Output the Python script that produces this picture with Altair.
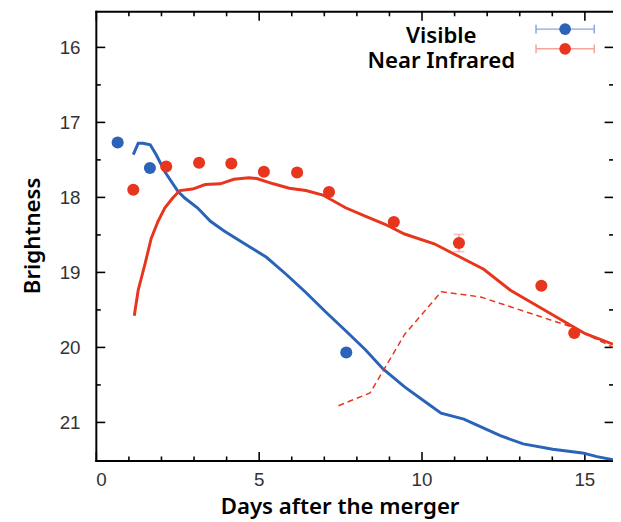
import altair as alt
import pandas as pd

# ---------------- data ----------------
vis_model_days = [1.15, 1.30, 1.45, 1.67, 1.85, 2.12, 2.52, 2.73, 3.12, 3.52, 3.94, 4.42,
                  5.24, 5.85, 6.45, 7.06, 7.67, 8.27, 8.82, 9.48, 10.09, 10.60, 11.30,
                  11.91, 12.42, 13.12, 14.03, 14.94, 15.39, 15.88]
vis_model_mag = [17.43, 17.28, 17.28, 17.30, 17.43, 17.66, 17.92, 18.01, 18.14, 18.32, 18.45, 18.58,
                 18.80, 19.03, 19.27, 19.53, 19.78, 20.03, 20.29, 20.53, 20.72, 20.88, 20.96,
                 21.08, 21.18, 21.29, 21.36, 21.41, 21.46, 21.50]

ir_model_days = [1.18, 1.30, 1.52, 1.70, 1.91, 2.12, 2.36, 2.58, 2.97, 3.36, 3.82, 4.24, 4.70,
                 4.94, 5.45, 5.94, 6.45, 6.97, 7.67, 8.27, 8.88, 9.48, 10.39, 11.15, 11.91,
                 12.73, 13.64, 14.55, 15.03, 15.88]
ir_model_mag = [19.58, 19.24, 18.87, 18.55, 18.32, 18.14, 18.01, 17.91, 17.89, 17.83, 17.82, 17.76,
                17.74, 17.75, 17.82, 17.88, 17.91, 17.97, 18.14, 18.25, 18.36, 18.49, 18.62,
                18.79, 18.96, 19.24, 19.47, 19.70, 19.82, 19.96]

ir_alt_days = [7.45, 8.42, 9.48, 10.61, 11.82, 12.73, 13.64, 14.55, 15.88]
ir_alt_mag = [20.78, 20.61, 19.83, 19.26, 19.33, 19.46, 19.59, 19.72, 20.00]

vis_obs_days = [0.67, 1.66, 7.69]
vis_obs_mag = [17.27, 17.61, 20.07]

ir_obs_days = [1.15, 2.16, 3.17, 4.16, 5.16, 6.18, 7.16, 9.15, 11.15, 13.68, 14.69]
ir_obs_mag = [17.90, 17.59, 17.54, 17.55, 17.66, 17.67, 17.93, 18.33, 18.61, 19.18, 19.81]
ir_obs_err = [0, 0, 0, 0, 0, 0, 0, 0, 0.115, 0, 0]

x_major = [0, 5, 10, 15]
x_minor = [1, 2, 3, 4, 6, 7, 8, 9, 11, 12, 13, 14]
y_major = [16, 17, 18, 19, 20, 21]
y_minor = [16.5, 17.5, 18.5, 19.5, 20.5]

legend_labels = ["Visible", "Near Infrared"]

BLUE = "#2a63b7"
RED = "#e8361e"
BLUE_LIGHT = "#86a8da"
RED_LIGHT = "#f4a49b"
legend_colors = [BLUE, RED]
legend_bar_colors = [BLUE_LIGHT, RED_LIGHT]

FONT = "Liberation Sans"
TITLE_FONT = "Noto Sans"
TITLE_SIZE = 22.5

# ---------------- tables ----------------
df_vis_model = pd.DataFrame({"day": vis_model_days, "mag": vis_model_mag})
df_ir_model = pd.DataFrame({"day": ir_model_days, "mag": ir_model_mag})
df_ir_alt = pd.DataFrame({"day": ir_alt_days, "mag": ir_alt_mag})
df_vis_obs = pd.DataFrame({"day": vis_obs_days, "mag": vis_obs_mag})
df_ir_obs = pd.DataFrame({"day": ir_obs_days, "mag": ir_obs_mag, "err": ir_obs_err})
df_ir_obs["lo"] = df_ir_obs["mag"] - df_ir_obs["err"]
df_ir_obs["hi"] = df_ir_obs["mag"] + df_ir_obs["err"]
df_err = df_ir_obs[df_ir_obs["err"] > 0]

xs = alt.Scale(domain=[0, 15.88], nice=False, zero=False)
ys = alt.Scale(domain=[15.52, 21.51], reverse=True, nice=False, zero=False)

common = dict(grid=False, domainColor="black", domainWidth=2, domainCap="square",
              tickColor="black", tickWidth=1.6, labelFont=FONT, labelFontSize=19,
              labelColor="#333333")

def tick_axis(orient, values, size, domain=False):
    return alt.Axis(orient=orient, values=values, labels=False, domain=domain,
                    tickSize=alt.ExprRef(f"-{size}"), title=None, **common)

x_label_axis = alt.Axis(orient="bottom", values=x_major, ticks=False, domain=True,
                        labelPadding=10, title="Days after the merger",
                        titleFont=TITLE_FONT, titleFontSize=TITLE_SIZE, titleFontWeight=600,
                        titleColor="black", titleX=247, titleY=54,
                        titleAlign="center", titleBaseline="alphabetic", **common)
y_label_axis = alt.Axis(orient="left", values=y_major, ticks=False, domain=True,
                        labelPadding=16, title="Brightness",
                        titleFont=TITLE_FONT, titleFontSize=TITLE_SIZE, titleFontWeight=600,
                        titleColor="black", titleX=-64, titleY=227, titleAngle=270,
                        titleAlign="center", titleBaseline="middle", **common)

# ---------------- layers ----------------
vis_line = alt.Chart(df_vis_model).mark_line(color=BLUE, strokeWidth=3, clip=True).encode(
    x=alt.X("day:Q", scale=xs, axis=x_label_axis),
    y=alt.Y("mag:Q", scale=ys, axis=y_label_axis),
)
ir_line = alt.Chart(df_ir_model).mark_line(color=RED, strokeWidth=3, clip=True).encode(
    x=alt.X("day:Q", scale=xs, axis=tick_axis("bottom", x_major, 9)),
    y=alt.Y("mag:Q", scale=ys, axis=tick_axis("left", y_major, 9)),
)
ir_dash = alt.Chart(df_ir_alt).mark_line(color=RED, strokeWidth=1.5, strokeDash=[6, 4],
                                         clip=True).encode(
    x=alt.X("day:Q", scale=xs, axis=tick_axis("bottom", x_minor, 4.5)),
    y=alt.Y("mag:Q", scale=ys, axis=tick_axis("left", y_minor, 4.5)),
)
vis_pts = alt.Chart(df_vis_obs).mark_circle(color=BLUE, size=150, opacity=1).encode(
    x=alt.X("day:Q", scale=xs, axis=tick_axis("top", x_major, 9, domain=True)),
    y=alt.Y("mag:Q", scale=ys, axis=tick_axis("right", y_major, 9)),
)
ir_pts = alt.Chart(df_ir_obs).mark_circle(color=RED, size=150, opacity=1).encode(
    x=alt.X("day:Q", scale=xs, axis=tick_axis("top", x_minor, 4.5)),
    y=alt.Y("mag:Q", scale=ys, axis=tick_axis("right", y_minor, 4.5)),
)
err_rule = alt.Chart(df_err).mark_rule(color=RED_LIGHT, strokeWidth=1.5).encode(
    x=alt.X("day:Q", scale=xs, axis=None),
    y=alt.Y("lo:Q", scale=ys, axis=None),
    y2="hi:Q",
)
err_lo = alt.Chart(df_err).mark_tick(color=RED_LIGHT, orient="horizontal", size=11,
                                     thickness=1.5).encode(
    x=alt.X("day:Q", scale=xs, axis=None),
    y=alt.Y("lo:Q", scale=ys, axis=None),
)
err_hi = alt.Chart(df_err).mark_tick(color=RED_LIGHT, orient="horizontal", size=11,
                                     thickness=1.5).encode(
    x=alt.X("day:Q", scale=xs, axis=None),
    y=alt.Y("hi:Q", scale=ys, axis=None),
)

# ---------------- legend (drawn by hand, top right) ----------------
one = pd.DataFrame({"k": [0]})
legend_layers = []
for i, (lab, col, bcol) in enumerate(zip(legend_labels, legend_colors, legend_bar_colors)):
    ty = 32 + 25.5 * i
    sy = 18 + 20 * i
    legend_layers.append(
        alt.Chart(one).mark_text(font=TITLE_FONT, fontSize=TITLE_SIZE, fontWeight=600,
                                 color="black", align="center", baseline="alphabetic").encode(
            x=alt.value(350), y=alt.value(ty), text=alt.value(lab)))
    legend_layers.append(
        alt.Chart(one).mark_rule(color=bcol, strokeWidth=1.5).encode(
            x=alt.value(446), x2=alt.value(505), y=alt.value(sy)))
    for cx in (446, 505):
        legend_layers.append(
            alt.Chart(one).mark_rule(color=bcol, strokeWidth=1.5).encode(
                x=alt.value(cx), y=alt.value(sy - 4.5), y2=alt.value(sy + 4.5)))
    legend_layers.append(
        alt.Chart(one).mark_circle(color=col, size=140, opacity=1).encode(
            x=alt.value(475.5), y=alt.value(sy)))

chart = alt.layer(
    vis_line, ir_line, ir_dash, err_rule, err_lo, err_hi, vis_pts, ir_pts, *legend_layers
).resolve_axis(
    x="independent", y="independent"
).properties(
    width=524, height=455,
    autosize=alt.AutoSizeParams(type="none"),
    padding={"left": 89, "top": 0, "right": 0, "bottom": 60},
).configure_view(stroke=None)

chart.save("out.html", embed_options={"renderer": "svg", "actions": False})
